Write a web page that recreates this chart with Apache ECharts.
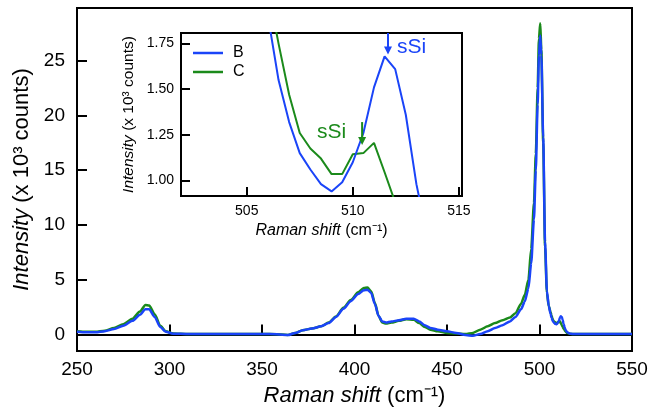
<!DOCTYPE html>
<html>
<head>
<meta charset="utf-8">
<script src="https://cdn.jsdelivr.net/npm/echarts@6/dist/echarts.min.js"></script>
<style>
  html, body { margin: 0; padding: 0; background: #fff; }
  #chart { width: 651px; height: 412px; }
</style>
</head>
<body>
<div id="chart"></div>
<script>
// Raman shift (cm-1), shared by both spectra
const shift = [
  250, 255, 260, 265, 270, 275, 280, 284, 287, 289, 292, 295, 298, 302, 310, 320, 330, 340, 350, 358,
  364, 368, 372, 377, 382, 386, 390, 394, 398, 402, 405, 407, 409, 411, 413, 415, 417, 420, 424, 428,
  432, 435, 438, 441, 445, 450, 455, 460, 464, 468, 472, 476, 480, 484, 487, 490, 492, 494, 495.5, 497,
  498, 499, 499.7, 500.4, 501, 502, 503, 504, 505, 506, 506.5, 507, 507.5, 508, 508.5, 509, 509.5, 510,
  510.5, 511, 511.5, 512, 512.5, 513, 513.5, 514, 515, 516.5, 518, 525, 535, 550
];
// intensity (x 10^3 counts)
const sampleB = [
  0.25, 0.2, 0.2, 0.3, 0.5, 0.8, 1.25, 1.8, 2.3, 2.3, 1.6, 0.7, 0.25, 0.08, 0.05, 0.05, 0.05, 0.05, 0.05, 0.03,
  -0.05, 0.15, 0.4, 0.55, 0.75, 1.05, 1.6, 2.35, 3.05, 3.7, 4.05, 4.1, 3.8, 2.8, 1.7, 1.2, 1.1, 1.2, 1.3, 1.45,
  1.45, 1.2, 0.85, 0.6, 0.45, 0.3, 0.15, -0.05, -0.1, 0.05, 0.3, 0.6, 0.85, 1.2, 1.6, 2.3, 3.0, 4.2, 6.5, 10.5,
  15, 21, 25.5, 27.3, 25.5, 18, 8.5, 4.0, 2.6, 1.9, 1.55, 1.32, 1.15, 1.06, 0.98, 0.94, 0.99, 1.10,
  1.26, 1.51, 1.68, 1.61, 1.36, 0.98, 0.7, 0.45, 0.2, 0.08, 0.05, 0.05, 0.05, 0.05
];
const sampleC = [
  0.3, 0.25, 0.25, 0.35, 0.6, 0.95, 1.45, 2.1, 2.7, 2.65, 1.85, 0.8, 0.3, 0.1, 0.05, 0.05, 0.05, 0.05, 0.05, 0.03,
  -0.03, 0.15, 0.4, 0.55, 0.75, 1.1, 1.65, 2.45, 3.15, 3.85, 4.25, 4.3, 3.95, 2.9, 1.7, 1.1, 1.0, 1.1, 1.25, 1.4,
  1.35, 1.05, 0.7, 0.45, 0.3, 0.15, 0.1, 0.05, 0.15, 0.45, 0.75, 1.05, 1.3, 1.55, 1.95, 2.8, 3.6, 5.0, 7.8, 12,
  16.5, 22.5, 27, 28.4, 26, 17.5, 8, 3.8, 2.6, 2.05, 1.75, 1.47, 1.26, 1.175, 1.12, 1.035, 1.035, 1.144,
  1.15, 1.206, 1.045, 0.88, 0.7, 0.55, 0.42, 0.3, 0.15, 0.07, 0.05, 0.05, 0.05, 0.05
];
const mainYTicks = [0, 5, 10, 15, 20, 25];
const insetYTicks = [1.00, 1.25, 1.50, 1.75];
const insetXTicks = [505, 510, 515];
// sSi arrows in the inset: [x, yFrom, yTo]
const arrowB = [511.66, 1.808, 1.69];
const arrowC = [510.44, 1.32, 1.195];

const blue = '#1a44f8';
const green = '#1b8a1b';
const font = 'Liberation Sans, Arial, sans-serif';

function pairs(ys) { return shift.map((x, i) => [x, ys[i]]); }

function axisName(size) {
  return { fontSize: size, color: '#000', fontFamily: font,
    rich: { i: { fontSize: size, fontStyle: 'italic', fontFamily: font, color: '#000' } } };
}

const chart = echarts.init(document.getElementById('chart'));

chart.setOption({
  animation: false,
  textStyle: { fontFamily: font, color: '#000' },
  legend: {
    data: ['B', 'C'], z: 20,
    orient: 'vertical',
    left: 193, top: 45, padding: 0,
    icon: 'rect', itemWidth: 30, itemHeight: 2.5, itemGap: 3,
    textStyle: { fontSize: 16, color: '#000', fontFamily: font, padding: [0, 0, 0, 5] }
  },
  grid: [
    { left: 77, right: 19, top: 8, bottom: 58, show: true, borderColor: '#000', borderWidth: 2 },
    { left: 181, top: 33, width: 281, height: 163, show: true, borderColor: '#000', borderWidth: 2, backgroundColor: '#fff' }
  ],
  xAxis: [
    {
      gridIndex: 0, type: 'value', min: 250, max: 550, interval: 50,
      axisLine: { lineStyle: { color: '#000', width: 2 } },
      axisTick: { inside: true, length: 10, lineStyle: { color: '#000', width: 2 } },
      axisLabel: { fontSize: 19, color: '#000', margin: 9, fontFamily: font },
      splitLine: { show: false },
      name: '{i|Raman shift} (cm⁻¹)', nameLocation: 'middle', nameGap: 34,
      nameTextStyle: axisName(22)
    },
    {
      gridIndex: 1, type: 'value', min: 501.9, max: 515.15,
      axisLine: { lineStyle: { color: '#000', width: 2 } },
      axisTick: { inside: true, length: 9, lineStyle: { color: '#000', width: 2 }, customValues: insetXTicks },
      axisLabel: { fontSize: 14, color: '#000', margin: 8, fontFamily: font, customValues: insetXTicks },
      splitLine: { show: false },
      name: '{i|Raman shift} (cm⁻¹)', nameLocation: 'middle', nameGap: 27,
      nameTextStyle: axisName(16)
    }
  ],
  yAxis: [
    {
      gridIndex: 0, type: 'value', min: -1.5, max: 29.8,
      axisLine: { lineStyle: { color: '#000', width: 2 } },
      axisTick: { inside: true, length: 10, lineStyle: { color: '#000', width: 2 }, customValues: mainYTicks },
      axisLabel: { fontSize: 19, color: '#000', margin: 12, fontFamily: font, customValues: mainYTicks },
      splitLine: { show: false },
      name: '{i|Intensity} (x 10³ counts)', nameLocation: 'middle', nameGap: 42,
      nameTextStyle: axisName(22)
    },
    {
      gridIndex: 1, type: 'value', min: 0.915, max: 1.808,
      axisLine: { lineStyle: { color: '#000', width: 2 } },
      axisTick: { inside: true, length: 9, lineStyle: { color: '#000', width: 2 }, customValues: insetYTicks },
      axisLabel: { fontSize: 14, color: '#000', margin: 7, fontFamily: font, customValues: insetYTicks,
        formatter: v => v.toFixed(2) },
      splitLine: { show: false },
      name: '{i|Intensity} (x 10³ counts)', nameLocation: 'middle', nameGap: 44,
      nameTextStyle: axisName(15.5)
    }
  ],
  series: [
    {
      name: 'C', type: 'line', xAxisIndex: 0, yAxisIndex: 0, data: pairs(sampleC),
      showSymbol: false, smooth: 0.25, smoothMonotone: 'x', lineStyle: { color: green, width: 2.5 }, itemStyle: { color: green }
    },
    {
      name: 'B', type: 'line', xAxisIndex: 0, yAxisIndex: 0, data: pairs(sampleB),
      showSymbol: false, smooth: 0.25, smoothMonotone: 'x', lineStyle: { color: blue, width: 2.5 }, itemStyle: { color: blue }
    },
    {
      name: 'C', type: 'line', xAxisIndex: 1, yAxisIndex: 1, data: pairs(sampleC), z: 12,
      showSymbol: false, clip: true, lineStyle: { color: green, width: 2 }, itemStyle: { color: green }
    },
    {
      name: 'B', type: 'line', xAxisIndex: 1, yAxisIndex: 1, data: pairs(sampleB), z: 12,
      showSymbol: false, clip: true, lineStyle: { color: blue, width: 2 }, itemStyle: { color: blue }
    }
  ]
});

// sSi labels and arrows, placed from data coordinates of the inset
function arrow(a, color) {
  const p0 = chart.convertToPixel({ xAxisIndex: 1, yAxisIndex: 1 }, [a[0], a[1]]);
  const p1 = chart.convertToPixel({ xAxisIndex: 1, yAxisIndex: 1 }, [a[0], a[2]]);
  return [
    { type: 'line', z: 100, shape: { x1: p0[0], y1: p0[1], x2: p1[0], y2: p1[1] - 6 },
      style: { stroke: color, lineWidth: 2 } },
    { type: 'polygon', z: 100, shape: { points: [[p1[0] - 4, p1[1] - 8], [p1[0] + 4, p1[1] - 8], [p1[0], p1[1]]] },
      style: { fill: color } }
  ];
}
chart.setOption({
  graphic: [
    ...arrow(arrowB, blue),
    ...arrow(arrowC, green),
    { type: 'text', left: 397, top: 37, z: 100, style: { text: 'sSi', fill: blue, font: '21px ' + font } },
    { type: 'text', left: 317, top: 122, z: 100, style: { text: 'sSi', fill: green, font: '21px ' + font } }
  ]
});
</script>
</body>
</html>
